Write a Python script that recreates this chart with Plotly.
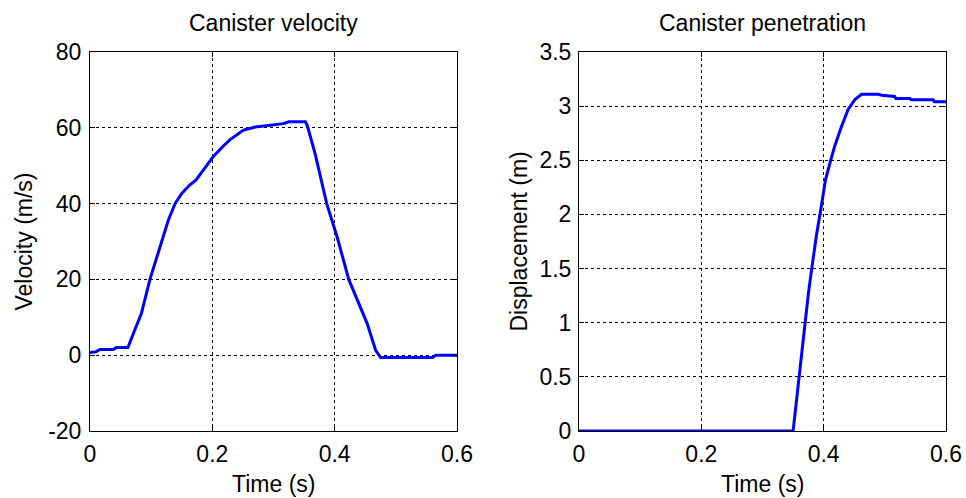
import plotly.graph_objects as go

t_vel = [0, 0.010, 0.016, 0.038, 0.043, 0.062, 0.073, 0.084, 0.098, 0.114, 0.128, 0.139, 0.150,
         0.163, 0.173, 0.191, 0.202, 0.218, 0.229, 0.251, 0.273, 0.295, 0.316, 0.325, 0.352,
         0.355, 0.368, 0.387, 0.404, 0.423, 0.437, 0.453, 0.467, 0.475, 0.560, 0.565, 0.600]
vel = [0.7, 0.9, 1.5, 1.5, 2.0, 2.0, 6.6, 11.0, 20.0, 28.6, 35.6, 40.0, 42.7,
       44.9, 46.2, 50.1, 52.5, 55.2, 56.9, 59.4, 60.3, 60.7, 61.1, 61.6, 61.6,
       60.7, 53.2, 40.0, 31.2, 20.0, 14.5, 8.4, 1.3, -0.6, -0.6, 0.0, 0.0]

t_disp = [0, 0.350, 0.352, 0.361, 0.369, 0.375, 0.381, 0.388, 0.396, 0.403, 0.410, 0.418,
          0.429, 0.440, 0.451, 0.462, 0.489, 0.495, 0.516, 0.518, 0.541, 0.543, 0.579, 0.581, 0.600]
disp = [0, 0, 0.10, 0.56, 1.00, 1.27, 1.52, 1.80, 2.07, 2.32, 2.47, 2.63,
        2.81, 2.97, 3.06, 3.11, 3.11, 3.10, 3.09, 3.07, 3.07, 3.06, 3.06, 3.04, 3.04]

x_ticks = [0, 0.2, 0.4, 0.6]
x_ticklabels = ["0", "0.2", "0.4", "0.6"]
vel_ticks = [-20, 0, 20, 40, 60, 80]
vel_ticklabels = ["-20", "0", "20", "40", "60", "80"]
disp_ticks = [0, 0.5, 1, 1.5, 2, 2.5, 3, 3.5]
disp_ticklabels = ["0", "0.5", "1", "1.5", "2", "2.5", "3", "3.5"]

FONT = "Liberation Sans, Arial, sans-serif"
FS = 23
BLUE = "#0000ff"

fig = go.Figure()
fig.add_trace(go.Scatter(x=t_vel, y=vel, mode="lines", line=dict(color=BLUE, width=3),
                         xaxis="x", yaxis="y", showlegend=False))
fig.add_trace(go.Scatter(x=t_disp, y=disp, mode="lines", line=dict(color=BLUE, width=3),
                         xaxis="x2", yaxis="y2", showlegend=False))

W, H = 966, 498
ytop, ybot = 52, 431
yd = [1 - ybot / H, 1 - ytop / H]
L1, R1 = 90, 457
L2, R2 = 579, 946

common_axis = dict(showline=True, linecolor="black", linewidth=1, mirror="ticks",
                   ticks="inside", ticklen=5, tickcolor="black",
                   showgrid=True, gridcolor="black", griddash="dot", gridwidth=1,
                   zeroline=False, tickfont=dict(family=FONT, size=FS, color="black"))

fig.update_layout(
    width=W, height=H, margin=dict(l=0, r=0, t=0, b=0, autoexpand=False),
    paper_bgcolor="white", plot_bgcolor="white",
    xaxis=dict(domain=[L1 / W, R1 / W], range=[0, 0.6], tickvals=x_ticks, ticktext=x_ticklabels,
               anchor="y", ticklabelstandoff=2, **common_axis),
    yaxis=dict(domain=yd, range=[-20, 80], tickvals=vel_ticks, ticktext=vel_ticklabels, anchor="x",
               ticklabelstandoff=3, **common_axis),
    xaxis2=dict(domain=[L2 / W, R2 / W], range=[0, 0.6], tickvals=x_ticks, ticktext=x_ticklabels,
                anchor="y2", ticklabelstandoff=2, **common_axis),
    yaxis2=dict(domain=yd, range=[0, 3.5], tickvals=disp_ticks, ticktext=disp_ticklabels, anchor="x2",
                ticklabelstandoff=2, **common_axis),
)

def ann(text, xpx, ypx, angle=0):
    fig.add_annotation(text=text, x=xpx / W, y=1 - ypx / H, xref="paper", yref="paper",
                       showarrow=False, xanchor="center", yanchor="middle", textangle=angle,
                       font=dict(family=FONT, size=FS, color="black"))

ann("Canister velocity", (L1 + R1) / 2, 23)
ann("Canister penetration", (L2 + R2) / 2, 23)
ann("Time (s)", (L1 + R1) / 2, 484)
ann("Time (s)", (L2 + R2) / 2, 484)
ann("Velocity (m/s)", 23, (ytop + ybot) / 2, -90)
ann("Displacement (m)", 518, (ytop + ybot) / 2, -90)

fig.write_html("out.html")
